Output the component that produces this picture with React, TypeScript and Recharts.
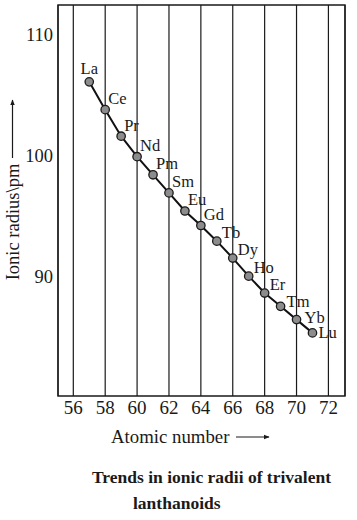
import React from 'react';
import {
  LineChart, Line, XAxis, YAxis, CartesianGrid, ReferenceArea, LabelList,
} from 'recharts';

// ── Data ─────────────────────────────────────────────────
const ELEMENTS = ['La', 'Ce', 'Pr', 'Nd', 'Pm', 'Sm', 'Eu', 'Gd', 'Tb', 'Dy', 'Ho', 'Er', 'Tm', 'Yb', 'Lu'];
const ATOMIC_NUMBERS = [57, 58, 59, 60, 61, 62, 63, 64, 65, 66, 67, 68, 69, 70, 71];
const IONIC_RADII = [106.1, 103.8, 101.6, 99.9, 98.4, 96.9, 95.4, 94.2, 92.9, 91.5, 90.0, 88.6, 87.5, 86.4, 85.3];

const X_TICKS = [56, 58, 60, 62, 64, 66, 68, 70, 72];
const Y_TICKS = [90, 100, 110];

const X_DOMAIN: [number, number] = [55.04, 73.04];
const Y_DOMAIN: [number, number] = [80.07, 112.47];

const data = ELEMENTS.map((symbol, i) => ({
  symbol,
  z: ATOMIC_NUMBERS[i],
  r: IONIC_RADII[i],
}));

const SERIF = '"Liberation Serif", "Times New Roman", serif';
const INK = '#1a1a1a';

// label nudges (dx, dy, anchor) — styling only
const labelNudge = (i: number): [number, number, string] => {
  if (i === 0) return [0, -13, 'middle'];
  if (i === ELEMENTS.length - 1) return [6, 0, 'start'];
  if (i <= 7) return [3, -11, 'start'];
  if (i <= 11) return [5, -8.5, 'start'];
  if (i === 12) return [6, -5, 'start'];
  return [8, -2, 'start'];
};

const renderLabel = (props: any) => {
  const x = props.x ?? props.viewBox?.x;
  const y = props.y ?? props.viewBox?.y;
  const i = ELEMENTS.indexOf(props.value);
  const [dx, dy, anchor] = labelNudge(i);
  return (
    <text x={x + dx} y={y + dy} textAnchor={anchor as any} dominantBaseline="central"
      fontFamily={SERIF} fontSize={16.5} fill={INK}>
      {props.value}
    </text>
  );
};

export default function App() {
  return (
    <div style={{ position: 'fixed', left: 0, top: 0, width: 357, height: 520, background: '#fff' }}>
      <LineChart width={357} height={430} data={data} margin={{ top: 5, right: 12, left: 0, bottom: 4 }}>
        <CartesianGrid horizontal={false} stroke={INK} strokeWidth={1.2} />
        <XAxis type="number" dataKey="z" domain={X_DOMAIN} ticks={X_TICKS} allowDataOverflow
          height={30} axisLine={false} tickLine={false} tickSize={3} tickMargin={2}
          tick={{ fontFamily: SERIF, fontSize: 19, fill: INK }} />
        <YAxis type="number" domain={Y_DOMAIN} ticks={Y_TICKS} allowDataOverflow
          width={58} axisLine={false} tickLine={false} tickSize={3} tickMargin={2}
          tick={{ fontFamily: SERIF, fontSize: 18.5, fill: INK }} />
        <ReferenceArea x1={X_DOMAIN[0]} x2={X_DOMAIN[1]} y1={Y_DOMAIN[0]} y2={Y_DOMAIN[1]}
          fill="none" fillOpacity={0} stroke={INK} strokeWidth={1.4} ifOverflow="visible" />
        <Line type="linear" dataKey="r" stroke="#111" strokeWidth={2} isAnimationActive={false}
          dot={{ r: 4.2, fill: '#8c8c8c', stroke: '#1a1a1a', strokeWidth: 1.3 }}>
          <LabelList dataKey="symbol" content={renderLabel} />
        </Line>
      </LineChart>

      <svg width={357} height={520} style={{ position: 'absolute', left: 0, top: 0, pointerEvents: 'none' }}>
        <defs>
          <marker id="arrowHead" viewBox="0 0 10 10" refX="9" refY="5" markerWidth="5" markerHeight="5" orient="auto">
            <path d="M0,1 L10,5 L0,9 z" fill={INK} />
          </marker>
        </defs>
        {/* y-axis title */}
        <text transform="translate(19, 222) rotate(-90)" textAnchor="middle"
          fontFamily={SERIF} fontSize={18.5} fill={INK}>{'Ionic radius\\pm'}</text>
        <line x1={12.5} y1={158} x2={12.5} y2={100} stroke={INK} strokeWidth={1.2} markerEnd="url(#arrowHead)" />
        {/* x-axis title */}
        <text x={111} y={443} fontFamily={SERIF} fontSize={18.8} fill={INK}>Atomic number</text>
        <line x1={236} y1={437} x2={269} y2={437} stroke={INK} strokeWidth={1.2} markerEnd="url(#arrowHead)" />
        {/* caption */}
        <text x={92} y={483} fontFamily={SERIF} fontSize={17.5} fontWeight="bold" fill={INK}>
          Trends in ionic radii of trivalent
        </text>
        <text x={133} y={509} fontFamily={SERIF} fontSize={17.5} fontWeight="bold" fill={INK}>
          lanthanoids
        </text>
      </svg>
    </div>
  );
}
